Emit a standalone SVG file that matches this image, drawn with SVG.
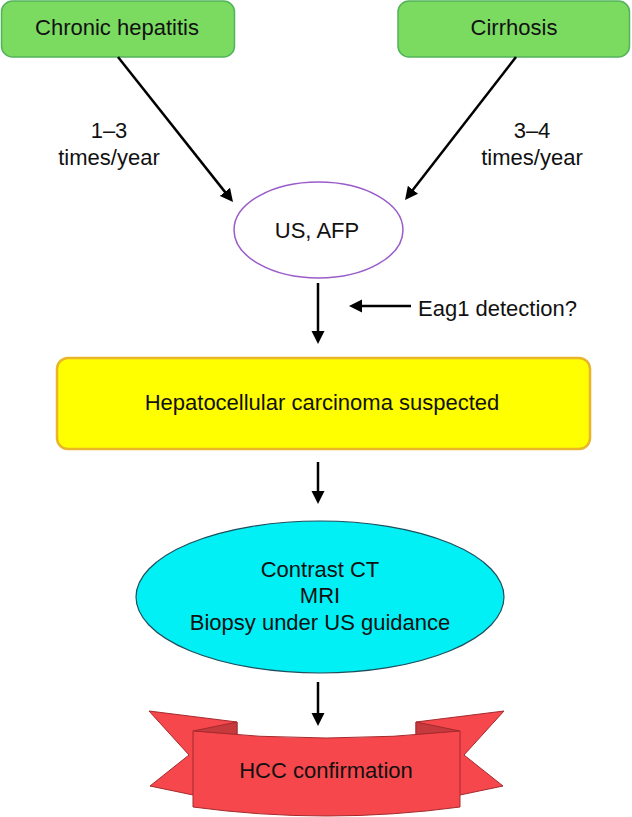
<svg xmlns="http://www.w3.org/2000/svg" width="632" height="817" viewBox="0 0 632 817">
<defs>
<style>
text{font-family:"Liberation Sans",Arial,sans-serif;font-size:22px;fill:#111;text-anchor:middle}
.green{fill:#7BDA60;stroke:#52B35A;stroke-width:1.5}
.conn{stroke:#000;stroke-width:2.5;fill:none;marker-end:url(#ah)}
.band{fill:#F5474C;stroke:#A52A2C;stroke-width:1}
.fold{fill:#C63A3E;stroke:#A52A2C;stroke-width:1}
</style>
<marker id="ah" markerUnits="userSpaceOnUse" markerWidth="14" markerHeight="14" refX="8" refY="7" orient="auto">
<path d="M0,0.5 L13,7 L0,13.5 z" fill="#000"/>
</marker>
</defs>
<rect width="632" height="817" fill="#fff"/>
<g id="chronic-hepatitis">
<rect class="green" x="1.5" y="1" width="233" height="56" rx="11"/>
<text x="117" y="35">Chronic hepatitis</text>
</g>
<g id="cirrhosis">
<rect class="green" x="398" y="1" width="231.5" height="56" rx="11"/>
<text x="514" y="35">Cirrhosis</text>
</g>
<g id="us-afp">
<ellipse cx="318.5" cy="230" rx="84.5" ry="48" fill="#fff" stroke="#9A5CCB" stroke-width="1.5"/>
<text x="317" y="238">US, AFP</text>
</g>
<g id="hcc-suspected">
<rect x="57" y="358" width="533" height="91" rx="11" fill="#FFFF00" stroke="#E9B52A" stroke-width="2.5"/>
<text x="322" y="410">Hepatocellular carcinoma suspected</text>
</g>
<g id="imaging">
<ellipse cx="320" cy="597" rx="184" ry="76" fill="#00F0F5" stroke="#1F4F5C" stroke-width="1.2"/>
<text x="320" y="577">Contrast CT</text>
<text x="320" y="603">MRI</text>
<text x="320" y="630">Biopsy under US guidance</text>
</g>
<g id="hcc-confirmation">
<polygon class="band" points="149,711 237,722 237,790 193,795 150,786 189,755"/>
<polygon class="band" points="504,711 416,722 416,790 460,795 503,786 464,755"/>
<path class="fold" d="M193,731 L237,722 L237,737 Q215,734 193,731 Z"/>
<path class="fold" d="M460,731 L416,722 L416,737 Q438,734 460,731 Z"/>
<path class="band" d="M193,731 Q326.5,745 460,731 L460,807 Q326.5,825 193,807 Z"/>
<text x="326" y="778">HCC confirmation</text>
</g>
<g id="connectors">
<line class="conn" x1="118" y1="57" x2="229.9" y2="198.1"/>
<line class="conn" x1="516" y1="57" x2="408.1" y2="196.1"/>
<line class="conn" x1="318" y1="283" x2="318" y2="339"/>
<line class="conn" x1="411" y1="306" x2="354" y2="306"/>
<line class="conn" x1="318" y1="462" x2="318" y2="499"/>
<line class="conn" x1="318" y1="682" x2="318" y2="721"/>
</g>
<g id="labels">
<text x="109" y="138">1–3</text>
<text x="109" y="165">times/year</text>
<text x="532" y="138">3–4</text>
<text x="532" y="165">times/year</text>
<text x="418" y="316" style="text-anchor:start">Eag1 detection?</text>
</g>
</svg>
